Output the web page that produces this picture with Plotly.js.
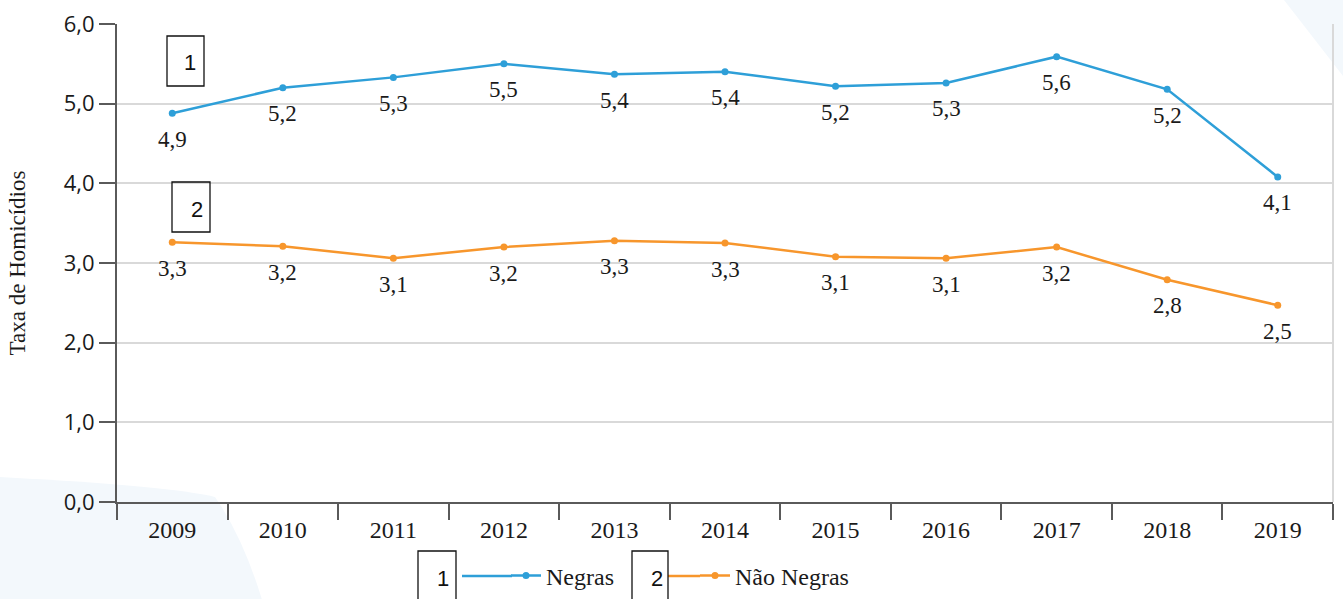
<!DOCTYPE html>
<html>
<head>
<meta charset="utf-8">
<script src="https://cdn.plot.ly/plotly-3.0.1.min.js"></script>
<style>html,body{margin:0;padding:0;background:#fff;}#chart{width:1343px;height:599px;}</style>
</head>
<body>
<div id="chart"></div>
<script>
// ---- data ----
const years = ['2009','2010','2011','2012','2013','2014','2015','2016','2017','2018','2019'];
const negras = [4.88, 5.20, 5.33, 5.50, 5.37, 5.40, 5.22, 5.26, 5.59, 5.18, 4.08];
const negrasLabels = ['4,9','5,2','5,3','5,5','5,4','5,4','5,2','5,3','5,6','5,2','4,1'];
const naoNegras = [3.26, 3.21, 3.06, 3.20, 3.28, 3.25, 3.08, 3.06, 3.20, 2.79, 2.47];
const naoNegrasLabels = ['3,3','3,2','3,1','3,2','3,3','3,3','3,1','3,1','3,2','2,8','2,5'];
const seriesNames = ['Negras', 'Não Negras'];
const yTitle = 'Taxa de Homicídios';

// ---- layout helpers ----
const W = 1343, H = 599;
const L = 117, R = 1333, T = 24, B = 502;
const px = x => (x - L) / (R - L);
const py = y => (B - y) / (B - T);
const P = (x, y) => px(x).toFixed(4) + ',' + py(y).toFixed(4);

const blue = '#2e9fd8';
const orange = '#f7962c';
const axisCol = '#5a5a5a';
const gridCol = '#d9d9d9';
const textCol = '#1a1a1a';

const traces = [
  {x: years, y: negras, name: seriesNames[0], type: 'scatter', mode: 'lines+markers',
   line: {color: blue, width: 2.5}, marker: {color: blue, size: 7}, hoverinfo: 'skip'},
  {x: years, y: naoNegras, name: seriesNames[1], type: 'scatter', mode: 'lines+markers',
   line: {color: orange, width: 2.5}, marker: {color: orange, size: 7}, hoverinfo: 'skip'}
];

const annotations = [];
const shapes = [];
const labelFont = {family: 'Liberation Serif', size: 23, color: textCol};
years.forEach((yr, i) => {
  annotations.push({x: i, y: negras[i], xref: 'x', yref: 'y', text: negrasLabels[i],
    showarrow: false, yshift: -26, font: labelFont});
  annotations.push({x: i, y: naoNegras[i], xref: 'x', yref: 'y', text: naoNegrasLabels[i],
    showarrow: false, yshift: -26, font: labelFont});
});

const boxFont = {family: 'Liberation Sans', size: 22, color: '#111'};
function numBox(x0, y0, x1, y1, tx, ty, txt) {
  shapes.push({type: 'rect', xref: 'paper', yref: 'paper', x0: px(x0), x1: px(x1), y0: py(y1), y1: py(y0),
    line: {color: '#111', width: 1.3}, fillcolor: 'rgba(255,255,255,0)', layer: 'above'});
  annotations.push({xref: 'paper', yref: 'paper', x: px(tx), y: py(ty), text: txt, showarrow: false,
    xanchor: 'center', yanchor: 'middle', font: boxFont});
}

// faint background decorations
shapes.push({type: 'path', xref: 'paper', yref: 'paper', layer: 'below', line: {width: 0}, fillcolor: '#f3f8fc',
   path: 'M' + P(0, 477) + ' Q' + P(170, 486) + ' ' + P(215, 497) + ' Q' + P(245, 540) + ' ' + P(265, 610) + ' L' + P(0, 610) + ' Z'});
shapes.push({type: 'path', xref: 'paper', yref: 'paper', layer: 'below', line: {width: 0}, fillcolor: '#f3f8fc',
   path: 'M' + P(1284, 0) + ' L' + P(1350, 0) + ' L' + P(1350, 85) + ' Z'});
// right border
shapes.push({type: 'line', xref: 'paper', yref: 'paper', x0: 1, x1: 1, y0: 0, y1: 1, line: {color: gridCol, width: 2}, layer: 'below'});
// legend line extensions
shapes.push({type: 'line', xref: 'paper', yref: 'paper', x0: px(462), x1: px(512), y0: py(576), y1: py(576), line: {color: blue, width: 2.5}});
shapes.push({type: 'line', xref: 'paper', yref: 'paper', x0: px(668), x1: px(700), y0: py(576), y1: py(576), line: {color: orange, width: 2.5}});

numBox(167, 36, 204, 86, 190, 62, '1');
numBox(172, 182, 210, 232, 197, 209, '2');
numBox(418, 551, 456, 640, 443, 578, '1');
numBox(632, 551, 668, 640, 657, 578, '2');

const layout = {
  width: W, height: H,
  margin: {l: L, r: W - R, t: T, b: H - B, autoexpand: false},
  paper_bgcolor: '#ffffff',
  plot_bgcolor: 'rgba(0,0,0,0)',
  separators: ',.',
  showlegend: true,
  legend: {orientation: 'h', x: px(506), y: py(576), xanchor: 'left', yanchor: 'middle',
    font: {family: 'Liberation Serif', size: 24, color: textCol}, bgcolor: 'rgba(0,0,0,0)',
    entrywidth: 144, entrywidthmode: 'pixels', itemclick: false, itemdoubleclick: false},
  xaxis: {type: 'category', range: [-0.5, 10.5], tickson: 'boundaries', ticks: 'outside', ticklen: 16,
    tickwidth: 2, tickcolor: axisCol, showline: true, linecolor: axisCol, linewidth: 2, showgrid: false,
    zeroline: false, fixedrange: true, ticklabelstandoff: 5,
    tickfont: {family: 'Liberation Serif', size: 24, color: textCol}},
  yaxis: {range: [0, 6], dtick: 1, tick0: 0, tickformat: '.1f', ticks: 'outside', ticklen: 16,
    tickwidth: 2, tickcolor: axisCol, showline: true, linecolor: axisCol, linewidth: 2,
    showgrid: true, gridcolor: gridCol, gridwidth: 2, zeroline: false, fixedrange: true,
    tickfont: {family: 'Open Sans', size: 22, color: textCol},
    title: {text: yTitle, standoff: 32, font: {family: 'Liberation Serif', size: 23, color: textCol}}},
  annotations: annotations,
  shapes: shapes
};

Plotly.newPlot('chart', traces, layout, {staticPlot: true, displayModeBar: false});
</script>
</body>
</html>
